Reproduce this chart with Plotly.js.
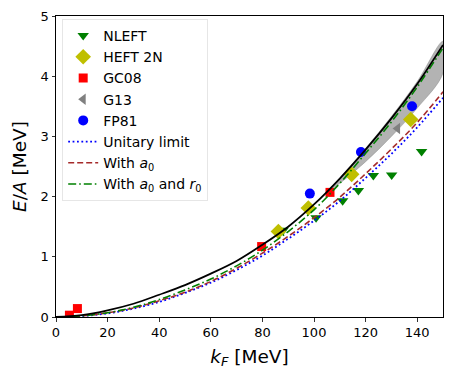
<!DOCTYPE html>
<html>
<head>
<meta charset="utf-8">
<script src="https://cdn.plot.ly/plotly-3.0.1.min.js"></script>
<style>
  html, body { margin: 0; padding: 0; background: #fff; }
  #chart { width: 456px; height: 379px; }
</style>
</head>
<body>
<div id="chart"></div>
<script>
// data points
const nleftK = [88.0, 100.8, 111.1, 117.2, 123.0, 130.1, 141.7];
const nleftE = [1.44, 1.65, 1.93, 2.10, 2.35, 2.36, 2.75];

const heftK = [86.2, 97.8, 114.6, 137.5];
const heftE = [1.42, 1.81, 2.37, 3.28];

const gc08K = [5.2, 8.3, 79.7, 106.2];
const gc08E = [0.03, 0.14, 1.17, 2.07];

const g13K = [132.4];
const g13E = [3.13];

const fp81K = [98.4, 118.2, 138.0];
const fp81E = [2.05, 2.74, 3.50];

// curves
const curveK = [0, 10, 20, 30, 40, 50, 60, 70, 80, 90, 100, 110, 120, 130, 140, 150];
const fullE = [0, 0.03, 0.11, 0.22, 0.37, 0.53, 0.72, 0.93, 1.20, 1.50, 1.87, 2.30, 2.78, 3.30, 3.87, 4.52];
const unitaryE = [0, 0.015, 0.06, 0.14, 0.25, 0.40, 0.57, 0.78, 1.02, 1.30, 1.60, 1.93, 2.31, 2.71, 3.15, 3.64];
const a0E = [0, 0.02, 0.07, 0.15, 0.27, 0.41, 0.59, 0.81, 1.06, 1.34, 1.65, 1.99, 2.38, 2.79, 3.23, 3.74];
const a0r0E = [0, 0.02, 0.07, 0.16, 0.29, 0.45, 0.63, 0.85, 1.11, 1.42, 1.78, 2.22, 2.72, 3.24, 3.82, 4.47];

// grey uncertainty band
const bandK = [105, 110, 120, 130, 140, 150];
const bandLo = [2.06, 2.22, 2.58, 3.00, 3.47, 4.05];
const bandHi = [2.08, 2.31, 2.80, 3.33, 3.91, 4.58];

const traces = [
    {
        x: bandK.concat(bandK.slice().reverse()),
        y: bandHi.concat(bandLo.slice().reverse()),
        type: 'scatter', mode: 'lines', fill: 'toself',
        fillcolor: 'rgba(128,128,128,0.6)',
        line: { color: 'rgba(128,128,128,0.8)', width: 0.5, shape: 'spline' },
        showlegend: false, hoverinfo: 'skip'
    },
    {
        x: nleftK, y: nleftE, name: 'NLEFT', type: 'scatter', mode: 'markers',
        marker: { symbol: 'triangle-down', color: '#008000', size: 10 }
    },
    {
        x: heftK, y: heftE, name: 'HEFT 2N', type: 'scatter', mode: 'markers',
        marker: { symbol: 'diamond', color: '#bfbf00', size: 12 }
    },
    {
        x: gc08K, y: gc08E, name: 'GC08', type: 'scatter', mode: 'markers',
        marker: { symbol: 'square', color: '#ff0000', size: 9 }
    },
    {
        x: g13K, y: g13E, name: 'G13', type: 'scatter', mode: 'markers',
        marker: { symbol: 'triangle-left', color: '#808080', size: 10 }
    },
    {
        x: fp81K, y: fp81E, name: 'FP81', type: 'scatter', mode: 'markers',
        marker: { symbol: 'circle', color: '#0000ff', size: 10 }
    },
    {
        x: curveK, y: unitaryE, name: 'Unitary limit', type: 'scatter', mode: 'lines',
        line: { color: '#0000ff', dash: '1.8px,2.6px', width: 1.8, shape: 'spline' }
    },
    {
        x: curveK, y: a0E, name: 'With <i>a</i><sub>0</sub>', type: 'scatter', mode: 'lines',
        line: { color: '#a52a2a', dash: '6px,3px', width: 1.6, shape: 'spline' }
    },
    {
        x: curveK, y: a0r0E, name: 'With <i>a</i><sub>0</sub> and <i>r</i><sub>0</sub>', type: 'scatter', mode: 'lines',
        line: { color: '#008000', dash: '8px,3px,1.6px,3px', width: 1.6, shape: 'spline' }
    },
    {
        x: curveK, y: fullE, type: 'scatter', mode: 'lines',
        line: { color: '#000000', width: 1.8, shape: 'spline' },
        showlegend: false
    }
];

const axisBase = {
    showgrid: false, zeroline: false,
    showline: true, linecolor: '#000', linewidth: 1, mirror: true,
    ticks: 'outside', ticklen: 3.5, tickwidth: 0.8, tickcolor: '#000',
    tickfont: { family: 'DejaVu Sans', size: 13, color: '#000' }
};

const layout = {
    width: 456, height: 379,
    margin: { l: 56, r: 13, t: 16, b: 62 },
    paper_bgcolor: '#fff', plot_bgcolor: '#fff',
    font: { family: 'DejaVu Sans', color: '#000' },
    xaxis: Object.assign({}, axisBase, {
        range: [0, 150], dtick: 20, tick0: 0,
        title: { text: '<i>k</i><sub><i>F</i></sub> [MeV]', font: { size: 18.5 }, standoff: 10 }
    }),
    yaxis: Object.assign({}, axisBase, {
        range: [0, 5], dtick: 1, tick0: 0,
        title: { text: '<i>E</i>/<i>A</i> [MeV]', font: { size: 18.5 }, standoff: 9 }
    }),
    legend: {
        x: 0.016, y: 0.99, xanchor: 'left', yanchor: 'top',
        bgcolor: 'rgba(255,255,255,0.8)', bordercolor: '#e6e6e6', borderwidth: 1,
        font: { family: 'DejaVu Sans', size: 14, color: '#000' },
        tracegroupgap: 0
    }
};

Plotly.newPlot('chart', traces, layout, { displayModeBar: false, staticPlot: true });
</script>
</body>
</html>
